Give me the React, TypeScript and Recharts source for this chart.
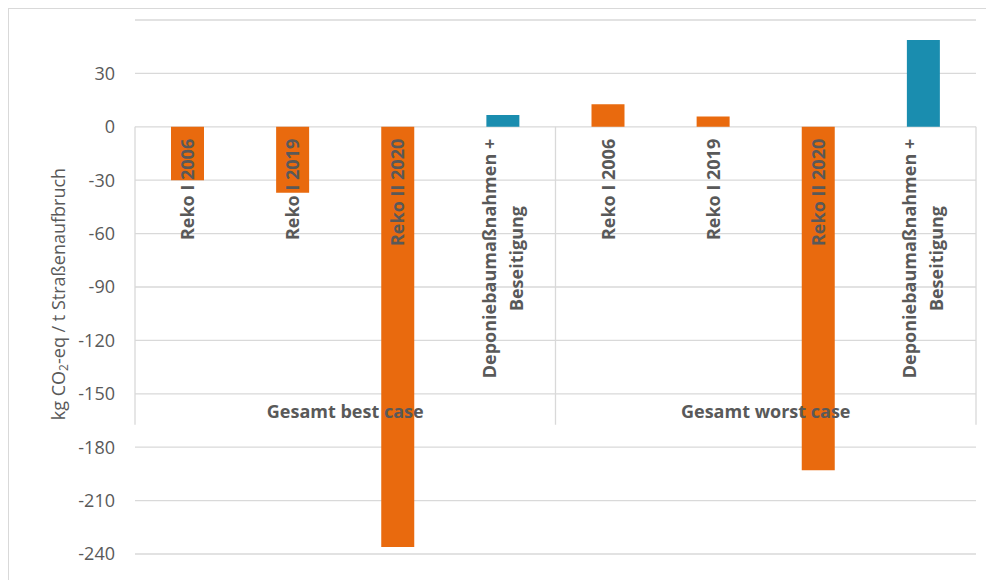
import React from 'react'
import { Bar, BarChart, CartesianGrid, Cell, LabelList, ReferenceLine, XAxis, YAxis } from 'recharts'

const categories = [
  'Reko I 2006',
  'Reko I 2019',
  'Reko II 2020',
  'Deponiebaumaßnahmen +\nBeseitigung',
  'Reko I 2006',
  'Reko I 2019',
  'Reko II 2020',
  'Deponiebaumaßnahmen +\nBeseitigung',
]
const groups = ['Gesamt best case', 'Gesamt worst case']
const values = [-30, -37, -236, 6.6, 12.6, 5.8, -193, 48.7]
const barColors = ['#E96A0E', '#E96A0E', '#E96A0E', '#1A8DAF', '#E96A0E', '#E96A0E', '#E96A0E', '#1A8DAF']
const yTicks = [-240, -210, -180, -150, -120, -90, -60, -30, 0, 30]

const data = categories.map((name, i) => ({ name, value: values[i] }))

const FONT = "'Open Sans', 'Noto Sans', sans-serif"
const TEXT = '#595959'
const GRID = '#D9D9D9'

let ctx: CanvasRenderingContext2D | null = null
function measure(s: string) {
  if (!ctx) ctx = document.createElement('canvas').getContext('2d')
  if (!ctx) return s.length * 10
  ctx.font = `bold 18px ${FONT}`
  return ctx.measureText(s).width
}

function CategoryLabel(props: any) {
  const vb = props.viewBox ?? props
  const { x, y, width, height } = vb
  const index = props.index as number
  const v = values[index]
  const zeroY = v < 0 ? Math.min(y, y + height) : Math.max(y, y + height)
  const cx = x + width / 2
  const lines = categories[index].split('\n')
  const maxW = Math.max(...lines.map(measure))
  const mid = -(12 + maxW / 2)
  const lh = 27
  return (
    <g transform={`translate(${cx},${zeroY}) rotate(-90)`}>
      {lines.map((l, i) => (
        <text
          key={i}
          x={mid}
          y={6.5 + (i - (lines.length - 1) / 2) * lh}
          textAnchor="middle"
          fill={TEXT}
          fontSize={18}
          fontWeight="bold"
          fontFamily={FONT}
        >
          {l}
        </text>
      ))}
    </g>
  )
}

function GroupAxis(props: any) {
  const { x, y, width } = props.viewBox
  const step = width / groups.length
  const bottom = y + 298
  return (
    <g>
      {[0, 1, 2].map((i) => (
        <line key={i} x1={x + i * step} x2={x + i * step} y1={y} y2={bottom} stroke={GRID} strokeWidth={1.3} />
      ))}
      {groups.map((g, i) => (
        <text
          key={g}
          x={x + (i + 0.5) * step}
          y={y + 284}
          textAnchor="middle"
          dominantBaseline="central"
          fill={TEXT}
          fontSize={18}
          fontWeight="bold"
          fontFamily={FONT}
        >
          {g}
        </text>
      ))}
    </g>
  )
}

function AxisTitle(props: any) {
  const { x, y, height } = props.viewBox
  const cx = x + 49
  const cy = y + height / 2 + 7
  return (
    <text
      transform={`translate(${cx},${cy}) rotate(-90)`}
      textAnchor="middle"
      dominantBaseline="central"
      fill={TEXT}
      fontSize={18}
      fontFamily={FONT}
    >
      kg CO
      <tspan fontSize={12} dy={5}>2</tspan>
      <tspan dy={-5}>-eq / t Straßenaufbruch</tspan>
    </text>
  )
}

export default function App() {
  return (
    <div style={{ width: 986, height: 572, overflow: 'hidden' }}>
      <div style={{ width: 1000, height: 600, border: `1px solid ${GRID}`, background: '#fff' }}>
        <BarChart
          width={998}
          height={598}
          data={data}
          margin={{ top: 11, right: 31, bottom: 53, left: 0 }}
          style={{ fontFamily: FONT }}
        >
          <CartesianGrid stroke={GRID} strokeWidth={1.3} vertical={false} />
          <XAxis dataKey="name" hide />
          <YAxis
            width={126}
            domain={[-240, 60]}
            ticks={yTicks}
            interval={0}
            tickLine={false}
            axisLine={false}
            tickMargin={14}
            tick={{ fill: TEXT, fontSize: 18, fontFamily: FONT }}
            label={{ content: AxisTitle }}
          />
          <Bar dataKey="value" barSize={33} isAnimationActive={false}>
            {data.map((d, i) => (
              <Cell key={i} fill={barColors[i]} />
            ))}
            <LabelList dataKey="name" content={CategoryLabel} />
          </Bar>
          <ReferenceLine y={0} stroke="transparent" label={{ content: GroupAxis }} />
        </BarChart>
      </div>
    </div>
  )
}
